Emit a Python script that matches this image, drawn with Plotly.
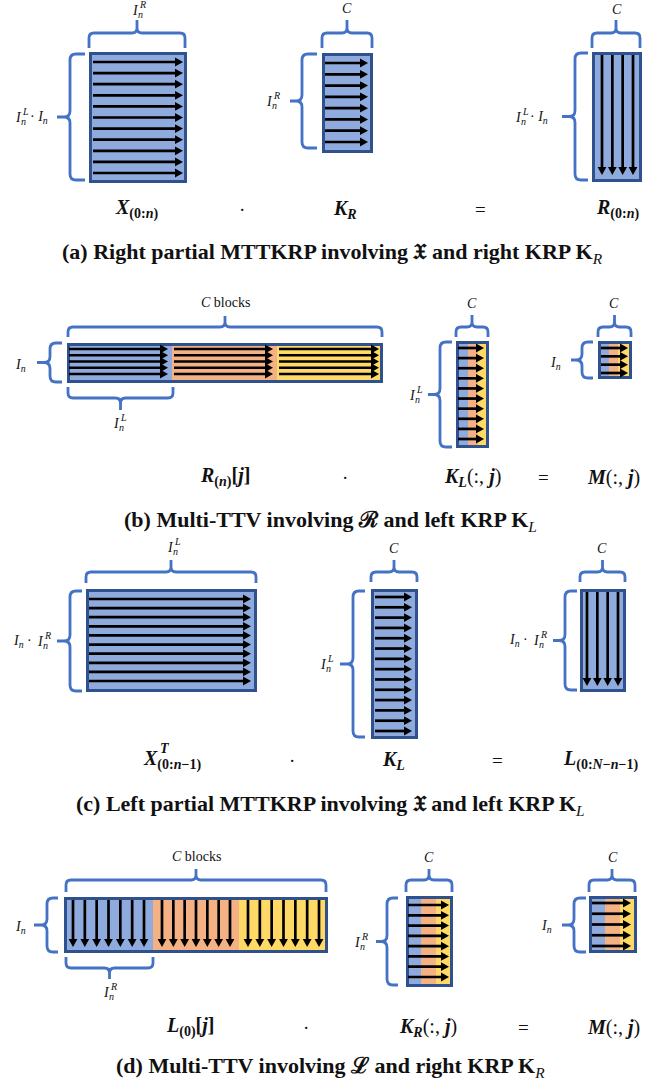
import numpy as np
import plotly.graph_objects as go

W, H = 665, 1087
FONT = "Liberation Serif"

BLUE, ORANGE, YELLOW = "#8FAADC", "#F4B183", "#FFD966"
BLOCK_COLORS = [BLUE, ORANGE, YELLOW]
EDGE = "#2F528F"
BRACE = "#4472C4"
INK = "#111111"

# Number of arrows drawn in each matrix (one arrow per row or per column)
ROWS_X = 11
ROWS_KR_A = 8
COLS_R_A = 4
ROWS_RN_PER_BLOCK = 5
ROWS_KL_B = 10
ROWS_M_B = 4
ROWS_XT = 10
ROWS_KL_C = 14
COLS_L_C = 4
COLS_L0_PER_BLOCK = 7
ROWS_KR_D = 8
ROWS_M_D = 5

CAPTIONS = [
    "<b>(a) Right partial MTTKRP involving 𝔛 and right KRP K</b><sub><i>R</i></sub>",
    "<b>(b) Multi-TTV involving ℛ and left KRP K</b><sub><i>L</i></sub>",
    "<b>(c) Left partial MTTKRP involving 𝔛 and left KRP K</b><sub><i>L</i></sub>",
    "<b>(d) Multi-TTV involving ℒ and right KRP K</b><sub><i>R</i></sub>",
]

OPERANDS_A = [
    "<b><i>X</i></b><sub><b>(0:<i>n</i>)</b></sub>", "·",
    "<b><i>K</i></b><sub><b><i>R</i></b></sub>", "=",
    "<b><i>R</i></b><sub><b>(0:<i>n</i>)</b></sub>",
]
OPERANDS_B = [
    "<b><i>R</i></b><sub><b>(<i>n</i>)</b></sub><b>[<i>j</i>]</b>", "·",
    "<b><i>K</i></b><sub><b><i>L</i></b></sub>(:, <b><i>j</i></b>)", "=",
    "<b><i>M</i></b>(:, <b><i>j</i></b>)",
]
OPERANDS_C = [
    "<b><i>X</i></b><sub><b>(0:<i>n</i>−1)</b></sub>", "·",
    "<b><i>K</i></b><sub><b><i>L</i></b></sub>", "=",
    "<b><i>L</i></b><sub><b>(0:<i>N</i>−<i>n</i>−1)</b></sub>",
]
OPERANDS_D = [
    "<b><i>L</i></b><sub><b>(0)</b></sub><b>[<i>j</i>]</b>", "·",
    "<b><i>K</i></b><sub><b><i>R</i></b></sub>(:, <b><i>j</i></b>)", "=",
    "<b><i>M</i></b>(:, <b><i>j</i></b>)",
]

shapes = []
annotations = []


def rect(x0, y0, x1, y1, fill=None, line=None, width=0):
    shapes.append(dict(type="rect", x0=x0, y0=y0, x1=x1, y1=y1,
                       fillcolor=fill if fill else "rgba(0,0,0,0)",
                       line=dict(color=line if line else "rgba(0,0,0,0)", width=width)))


def matrix(x0, y0, x1, y1, bands):
    for xa, xb, col in bands:
        rect(xa, y0, xb, y1, fill=col)
    rect(x0 + 1.5, y0 + 1.5, x1 - 1.5, y1 - 1.5, line=EDGE, width=3)


def harrow(xa, xb, y, hl=8, hw=4.4, w=2.7):
    shapes.append(dict(type="line", x0=xa, y0=y, x1=xb - hl + 1, y1=y,
                       line=dict(color="black", width=w)))
    shapes.append(dict(type="path", path=f"M {xb-hl},{y-hw} L {xb},{y} L {xb-hl},{y+hw} Z",
                       fillcolor="black", line=dict(width=0)))


def varrow(x, ya, yb, hl=8, hw=4.4, w=2.7):
    shapes.append(dict(type="line", x0=x, y0=ya, x1=x, y1=yb - hl + 1,
                       line=dict(color="black", width=w)))
    shapes.append(dict(type="path", path=f"M {x-hw},{yb-hl} L {x},{yb} L {x+hw},{yb-hl} Z",
                       fillcolor="black", line=dict(width=0)))


def brace_h(x0, x1, yl, yend, ytip, r=5):
    s = 1 if yend > yl else -1
    t = 1 if ytip > yl else -1
    xc = (x0 + x1) / 2
    path = (f"M {x0},{yend} L {x0},{yl+s*r} Q {x0},{yl} {x0+r},{yl} "
            f"L {xc-r},{yl} Q {xc},{yl} {xc},{yl+t*r} L {xc},{ytip} "
            f"L {xc},{yl+t*r} Q {xc},{yl} {xc+r},{yl} "
            f"L {x1-r},{yl} Q {x1},{yl} {x1},{yl+s*r} L {x1},{yend}")
    shapes.append(dict(type="path", path=path, line=dict(color=BRACE, width=2.8)))


def brace_v(xv, xend, xtip, y0, y1, r=6):
    s = 1 if xend > xv else -1
    t = 1 if xtip > xv else -1
    yc = (y0 + y1) / 2
    path = (f"M {xend},{y0} L {xv+s*r},{y0} Q {xv},{y0} {xv},{y0+r} "
            f"L {xv},{yc-r} Q {xv},{yc} {xv+t*r},{yc} L {xtip},{yc} "
            f"L {xv+t*r},{yc} Q {xv},{yc} {xv},{yc+r} "
            f"L {xv},{y1-r} Q {xv},{y1} {xv+s*r},{y1} L {xend},{y1}")
    shapes.append(dict(type="path", path=path, line=dict(color=BRACE, width=2.8)))


def text(x, y, s, size=14, xanchor="center", yanchor="middle", color=INK):
    annotations.append(dict(x=x, y=y, text=s, showarrow=False, xanchor=xanchor,
                            yanchor=yanchor, font=dict(family=FONT, size=size, color=color)))


def idx(x, y, sup):
    # italic I with a stacked subscript n and superscript
    text(x, y, "<i>I</i>", size=14, xanchor="left")
    text(x + 5.5, y + 4.5, "<i>n</i>", size=10, xanchor="left")
    text(x + 6.5, y - 5.5, f"<i>{sup}</i>", size=10, xanchor="left")


def idx_c(xc, y, sup):
    idx(xc - 7, y, sup)


def il_dot_in(x, y):
    # I_n^L · I_n
    idx(x, y, "L")
    text(x + 15, y, "· <i>I</i><sub><i>n</i></sub>", size=14, xanchor="left")


def in_dot_ir(x, y):
    # I_n · I_n^R
    text(x, y, "<i>I</i><sub><i>n</i></sub> ·", size=14, xanchor="left")
    idx(x + 24, y, "R")


def hrows(xa, xb, ya, yb, n):
    for y in np.linspace(ya, yb, n):
        harrow(xa, xb, float(y))


def vcols(xa, xb, ya, yb, n):
    for x in np.linspace(xa, xb, n):
        varrow(float(x), ya, yb)


def operands(row, xs, y):
    for s, x in zip(row, xs):
        size = 19 if s in ("·", "=") else 20
        text(x, y, s, size=size)


# ---------------- (a) right partial MTTKRP ----------------
matrix(89, 52, 187, 183, [(89, 187, BLUE)])
hrows(93, 183, 62, 173, ROWS_X)
brace_h(89, 185, 33, 48, 20)
idx_c(137, 10, "R")
brace_v(70, 85, 57, 54, 180)
il_dot_in(13, 117)

matrix(322, 53, 373, 153, [(322, 373, BLUE)])
hrows(325, 368, 63, 142, ROWS_KR_A)
brace_h(322, 372, 33, 48, 20)
text(347, 8, "<i>C</i>")
brace_v(302, 317, 290, 54, 148)
idx(264, 101, "R")

matrix(592, 52, 642, 182, [(592, 642, BLUE)])
vcols(602, 633, 55, 175, COLS_R_A)
brace_h(592, 640, 33, 48, 20)
text(617, 9, "<i>C</i>")
brace_v(575, 588, 562, 53, 180)
il_dot_in(513, 117)

operands(OPERANDS_A, [136, 242, 345, 480, 617], 209)
text(332, 253, CAPTIONS[0], size=22)

# ---------------- (b) multi-TTV with left KRP ----------------
bx = [67, 172, 277, 383]
matrix(67, 343, 383, 383, [(bx[i], bx[i + 1], BLOCK_COLORS[i]) for i in range(3)])
for i in range(3):
    hrows(bx[i] + 2, bx[i + 1] - 4, 349, 374, ROWS_RN_PER_BLOCK)
brace_h(68, 382, 327, 337, 316)
text(225, 302, "<i>C</i> blocks")
brace_v(50, 62, 37, 343, 382)
text(20, 365, "<i>I</i><sub><i>n</i></sub>")
brace_h(68, 173, 398, 387, 410)
idx_c(118, 423, "L")

matrix(456, 341, 489, 448, [(456, 468, BLUE), (468, 478, ORANGE), (478, 489, YELLOW)])
hrows(458, 484, 348, 439, ROWS_KL_B)
brace_h(456, 488, 327, 337, 315)
text(472, 303, "<i>C</i>")
brace_v(440, 452, 428, 342, 447)
idx(407, 395, "L")

matrix(598, 341, 632, 379, [(598, 609, BLUE), (609, 618, ORANGE), (618, 632, YELLOW)])
hrows(601, 628, 348, 373, ROWS_M_B)
brace_h(598, 631, 327, 337, 315)
text(614, 303, "<i>C</i>")
brace_v(582, 593, 571, 342, 378)
text(555, 363, "<i>I</i><sub><i>n</i></sub>")

operands(OPERANDS_B, [225, 345, 472, 543, 613], 477)
text(330, 521, CAPTIONS[1], size=22)

# ---------------- (c) left partial MTTKRP ----------------
matrix(86, 589, 257, 692, [(86, 257, BLUE)])
hrows(89, 251, 599, 681, ROWS_XT)
brace_h(86, 256, 572, 583, 560)
idx_c(172, 547, "L")
brace_v(70, 82, 57, 591, 691)
in_dot_ir(11, 641)

matrix(371, 589, 418, 739, [(371, 418, BLUE)])
hrows(375, 412, 597, 731, ROWS_KL_C)
brace_h(371, 417, 572, 582, 560)
text(394, 548, "<i>C</i>")
brace_v(353, 365, 340, 591, 737)
idx(318, 664, "L")

matrix(580, 589, 626, 692, [(580, 626, BLUE)])
vcols(587, 618, 592, 686, COLS_L_C)
brace_h(580, 625, 572, 582, 560)
text(602, 548, "<i>C</i>")
brace_v(565, 577, 553, 591, 690)
in_dot_ir(507, 640)

operands(OPERANDS_C, [172, 292, 393, 497, 600], 760)
text(158, 748, "<b><i>T</i></b>", size=14, xanchor="left")
text(330, 805, CAPTIONS[2], size=22)

# ---------------- (d) multi-TTV with right KRP ----------------
dx = [64, 153, 239, 328]
matrix(64, 897, 328, 953, [(dx[i], dx[i + 1], BLOCK_COLORS[i]) for i in range(3)])
for i in range(3):
    vcols(dx[i] + 9, dx[i + 1] - 9, 900, 947, COLS_L0_PER_BLOCK)
brace_h(66, 326, 880, 892, 869)
text(196, 856, "<i>C</i> blocks")
brace_v(47, 58, 34, 898, 952)
text(20, 927, "<i>I</i><sub><i>n</i></sub>")
brace_h(66, 153, 968, 957, 979)
idx_c(108, 992, "R")

matrix(406, 896, 453, 987, [(406, 421, BLUE), (421, 436, ORANGE), (436, 453, YELLOW)])
hrows(408, 449, 905, 977, ROWS_KR_D)
brace_h(406, 452, 880, 892, 869)
text(429, 857, "<i>C</i>")
brace_v(387, 398, 376, 898, 985)
idx(352, 942, "R")

matrix(589, 896, 637, 953, [(589, 605, BLUE), (605, 620, ORANGE), (620, 637, YELLOW)])
hrows(592, 631, 903, 946, ROWS_M_D)
brace_h(589, 635, 880, 892, 869)
text(613, 857, "<i>C</i>")
brace_v(574, 586, 562, 898, 952)
text(546, 926, "<i>I</i><sub><i>n</i></sub>")

operands(OPERANDS_D, [190, 306, 428, 523, 613], 1027)
text(330, 1067, CAPTIONS[3], size=22)

fig = go.Figure()
fig.update_layout(
    width=W, height=H, margin=dict(l=0, r=0, t=0, b=0),
    paper_bgcolor="white", plot_bgcolor="white",
    xaxis=dict(range=[0, W], visible=False, fixedrange=True),
    yaxis=dict(range=[H, 0], visible=False, fixedrange=True),
    shapes=shapes, annotations=annotations, showlegend=False,
)
fig.write_html("out.html")
